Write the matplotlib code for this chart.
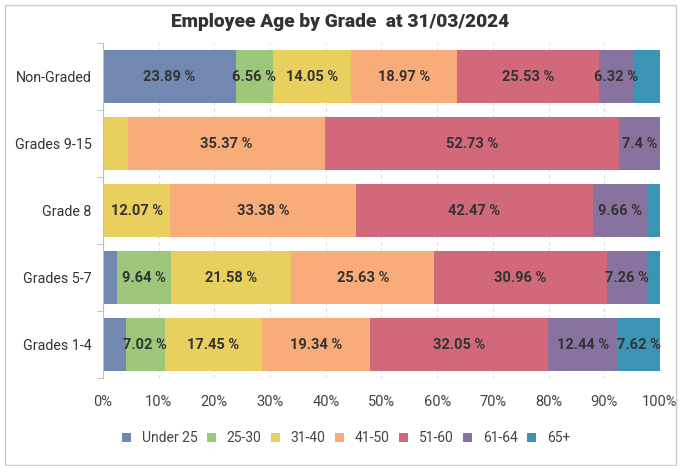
import numpy as np
import matplotlib
matplotlib.use('Agg')
import matplotlib.pyplot as plt
import matplotlib.patches as mpatches

plt.rcParams['font.family'] = ['Roboto', 'DejaVu Sans']

# data (percent of employees in each grade)
grades = ['Non-Graded', 'Grades 9-15', 'Grade 8', 'Grades 5-7', 'Grades 1-4']
ageBands = ['Under 25', '25-30', '31-40', '41-50', '51-60', '61-64', '65+']
under25 = [23.89, 0.0, 0.0, 2.59, 4.08]
age25to30 = [6.56, 0.0, 0.0, 9.64, 7.02]
age31to40 = [14.05, 4.50, 12.07, 21.58, 17.45]
age41to50 = [18.97, 35.37, 33.38, 25.63, 19.34]
age51to60 = [25.53, 52.73, 42.47, 30.96, 32.05]
age61to64 = [6.32, 7.40, 9.66, 7.26, 12.44]
age65plus = [4.68, 0.0, 2.42, 2.34, 7.62]
xTicks = [0, 10, 20, 30, 40, 50, 60, 70, 80, 90, 100]

colours = ['#7189b0', '#9dc77a', '#e8cf5e', '#f7ac79', '#d2697b', '#8873a0', '#3a95b5']
labelMin = 5.0   # smaller segments get no label

series = [under25, age25to30, age31to40, age41to50, age51to60, age61to64, age65plus]

fig = plt.figure(figsize=(6.81, 4.66), dpi=100)
ax = fig.add_axes([0.1512, 0.1888, 0.818, 0.7189])

yPos = np.arange(len(grades))
left = np.zeros(len(grades))
for name, vals, col in zip(ageBands, series, colours):
    vals = np.array(vals)
    ax.barh(yPos, vals, left=left, height=0.78, color=col, label=name, zorder=2)
    for y, v, l in zip(yPos, vals, left):
        if v >= labelMin:
            ax.text(l + v / 2, y, ('%g' % v) + ' %', ha='center', va='center',
                    fontsize=10.5, fontweight='bold', color='#333333', zorder=3)
    left += vals

ax.set_xlim(0, 100)
ax.set_ylim(len(grades) - 0.5, -0.5)
ax.set_xticks(xTicks)
ax.set_xticklabels(['%d%%' % t for t in xTicks])
ax.set_yticks(yPos)
ax.set_yticklabels(grades)
ax.set_yticks(np.arange(len(grades) + 1) - 0.5, minor=True)
ax.tick_params(axis='y', which='major', length=0, pad=8, labelsize=10.3, labelcolor='#333333')
ax.tick_params(axis='y', which='minor', length=4, color='#bbbbbb')
ax.tick_params(axis='x', length=0, pad=12, labelsize=10.5, labelcolor='#444444')
ax.grid(axis='x', color='#dddddd', linestyle=(0, (3, 3)), linewidth=0.8, zorder=0)
for s in ['top', 'right', 'bottom']:
    ax.spines[s].set_visible(False)
ax.spines['left'].set_color('#bbbbbb')

fig.suptitle('Employee Age by Grade  at 31/03/2024', y=0.972, fontsize=13.8,
             fontweight='heavy', color='#333333')

fig.legend(loc='center', bbox_to_anchor=(0.508, 0.06), ncol=7, frameon=False,
           fontsize=10, handlelength=0.65, handleheight=0.65, handletextpad=0.8,
           columnspacing=0.65, labelcolor='#444444')

# light frame round the whole chart
fig.patches.append(mpatches.Rectangle((5 / 681, 1 / 466), 671 / 681, 460 / 466,
                                      transform=fig.transFigure, fill=False,
                                      edgecolor='#cccccc', linewidth=1))

fig.savefig('out.png', dpi=100)
